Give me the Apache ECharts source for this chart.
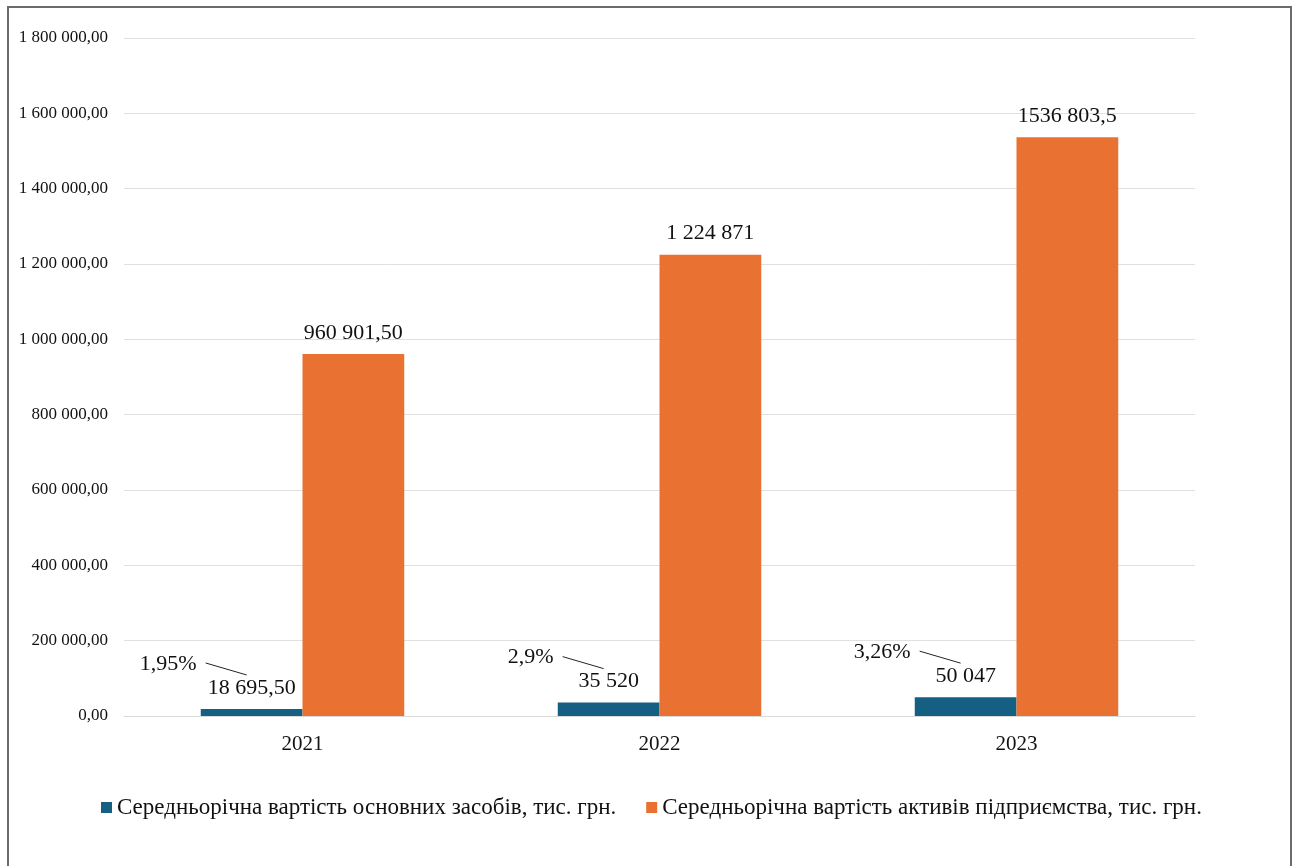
<!DOCTYPE html>
<html>
<head>
    <meta charset="utf-8">
    <script src="https://cdn.jsdelivr.net/npm/echarts@6.0.0/dist/echarts.min.js"></script>
    <style>
        html, body { margin: 0; padding: 0; background: #fff; overflow: hidden; }
        #main { position: absolute; left: 0; top: 0; width: 1296px; height: 866px; }
        #frame { position: absolute; left: 7px; top: 6px; width: 1281px; height: 900px;
                 border: 2px solid #6b6b6b; border-bottom: none; pointer-events: none; }
    </style>
</head>
<body>
    <div id="main"></div>
    <div id="frame"></div>

<script type="text/javascript">
// дані
var years = ['2021', '2022', '2023'];
var fixedAssets = [18695.5, 35520, 50047];
var totalAssets = [960901.5, 1224871, 1536803.5];
var fixedLabels = ['18 695,50', '35 520', '50 047'];
var totalLabels = ['960 901,50', '1 224 871', '1536 803,5'];
var shareLabels = ['1,95%', '2,9%', '3,26%'];

var nameFixed = 'Середньорічна вартість основних засобів, тис. грн.';
var nameTotal = 'Середньорічна вартість активів підприємства, тис. грн.';

var serif = '"Liberation Serif", "Times New Roman", serif';

function fmtAxis(v) {
    var s = v.toFixed(2).split('.');
    return s[0].replace(/\B(?=(\d{3})+(?!\d))/g, ' ') + ',' + s[1];
}

var myChart = echarts.init(document.getElementById('main'));
var option = {
    animation: false,
    color: ['#156082', '#E97132'],
    grid: { left: 124, right: 101, top: 38, bottom: 150 },
    legend: {
        data: [nameFixed, nameTotal],
        bottom: 42,
        left: 96,
        icon: 'rect',
        itemWidth: 11,
        itemHeight: 11,
        itemGap: 30,
        textStyle: { fontFamily: serif, fontSize: 23, color: '#111' }
    },
    xAxis: {
        type: 'category',
        data: years,
        axisLine: { lineStyle: { color: '#d9d9d9' } },
        axisTick: { show: false },
        axisLabel: { fontFamily: serif, fontSize: 21, color: '#111', margin: 18 }
    },
    yAxis: {
        type: 'value',
        min: 0,
        max: 1800000,
        interval: 200000,
        axisLine: { show: false },
        axisTick: { show: false },
        splitLine: { lineStyle: { color: '#e0e0e0' } },
        axisLabel: { fontFamily: serif, fontSize: 17, color: '#111', margin: 16, formatter: fmtAxis }
    },
    series: [
        {
            name: nameFixed,
            type: 'bar',
            data: fixedAssets,
            barGap: 0,
            barCategoryGap: '43%',
            label: {
                show: true, position: 'top', distance: 10,
                fontFamily: serif, fontSize: 22, color: '#111',
                formatter: function (p) { return fixedLabels[p.dataIndex]; }
            }
        },
        {
            name: nameTotal,
            type: 'bar',
            data: totalAssets,
            barGap: 0,
            barCategoryGap: '43%',
            label: {
                show: true, position: 'top', distance: 10,
                fontFamily: serif, fontSize: 22, color: '#111',
                formatter: function (p) { return totalLabels[p.dataIndex]; }
            }
        },
        {
            // частка основних засобів з виносною лінією
            name: 'share',
            type: 'custom',
            silent: true,
            z: 5,
            data: fixedAssets.map(function (v, i) { return [i, v]; }),
            renderItem: function (params, api) {
                var pt = api.coord([api.value(0), api.value(1)]);
                var band = api.size([1, 0])[0];
                var barW = band * 0.57 / 2;
                var cx = pt[0] - barW / 2;
                var top = pt[1];
                return {
                    type: 'group',
                    children: [
                        {
                            type: 'line',
                            shape: { x1: cx - 46, y1: top - 46, x2: cx - 5, y2: top - 34 },
                            style: { stroke: '#222', lineWidth: 1 }
                        },
                        {
                            type: 'text',
                            x: cx - 55,
                            y: top - 45,
                            style: {
                                text: shareLabels[params.dataIndex],
                                fontFamily: serif, fontSize: 22, fill: '#111',
                                align: 'right', verticalAlign: 'middle'
                            }
                        }
                    ]
                };
            }
        }
    ]
};
myChart.setOption(option);
</script>
</body>
</html>
